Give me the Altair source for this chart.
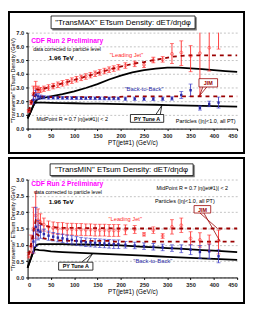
import altair as alt
import pandas as pd

FONT = "Liberation Sans"
W = 214
H1 = 98
H2 = 100

# ---------------- data ----------------
pt = [2.5, 7.5, 12.5, 17.5, 22.5, 27.5, 35, 45, 55, 65, 75, 85, 95, 105, 115, 125, 135, 145,
      155, 165, 175, 185, 195, 210, 230, 250, 270, 290, 310, 330, 350, 370, 390, 410]
pt_b2b = pt[2:]
pt_jim = pt + [430, 450]
pt_py = [0, 5, 10, 15, 20, 25, 35, 50, 75, 100, 125, 150, 175, 200, 225, 250, 275, 300,
         325, 350, 375, 400, 425, 450]

# TransMAX
max_lj = [1.30, 1.90, 2.55, 3.00, 2.85, 2.80, 2.90, 3.00, 3.10, 3.20, 3.30, 3.38, 3.50, 3.60,
          3.70, 3.80, 3.90, 4.00, 4.10, 4.20, 4.30, 4.38, 4.48, 4.60, 4.72, 4.65, 5.00, 5.05,
          5.45, 5.55, 5.30, 5.50, 5.90, 7.60]
max_lj_lo = [1.20, 1.75, 2.10, 2.60, 2.62, 2.62, 2.72, 2.80, 2.90, 3.00, 3.10, 3.18, 3.30, 3.40,
             3.50, 3.60, 3.70, 3.80, 3.90, 4.00, 4.10, 4.18, 4.28, 4.40, 4.52, 4.45, 4.80, 4.85,
             4.75, 4.60, 4.15, 2.40, 4.20, 5.80]
max_lj_hi = [1.40, 2.05, 3.10, 3.45, 3.10, 3.00, 3.10, 3.20, 3.30, 3.40, 3.50, 3.58, 3.70, 3.80,
             3.90, 4.00, 4.10, 4.20, 4.30, 4.40, 4.50, 4.58, 4.68, 4.80, 4.92, 4.85, 5.20, 5.25,
             6.20, 6.40, 6.05, 8.60, 7.60, 9.40]
max_b2b = [2.10, 2.45, 2.35, 2.30, 2.28, 2.26, 2.25, 2.25, 2.24, 2.24, 2.23, 2.23, 2.22, 2.22,
           2.22, 2.21, 2.21, 2.20, 2.20, 2.20, 2.20, 2.18, 2.18, 2.17, 2.17, 2.18, 2.20, 2.45,
           2.80, 1.50, 1.80, 1.90]
max_b2b_err = [0.30, 0.35, 0.20, 0.15, 0.12, 0.12, 0.10, 0.10, 0.10, 0.10, 0.10, 0.10, 0.10, 0.10,
               0.10, 0.10, 0.10, 0.10, 0.10, 0.10, 0.10, 0.12, 0.12, 0.12, 0.12, 0.12, 0.12, 0.25,
               0.45, 0.15, 0.20, 0.40]
max_jim_lj = [1.30, 1.90, 2.50, 2.90, 2.85, 2.85, 2.92, 3.00, 3.10, 3.20, 3.30, 3.40, 3.50, 3.60,
              3.70, 3.80, 3.90, 4.00, 4.10, 4.20, 4.30, 4.40, 4.50, 4.60, 4.75, 4.85, 5.00, 5.10,
              5.25, 5.30, 5.35, 5.35, 5.35, 5.35, 5.35, 5.35]
max_jim_b2b = [1.25, 1.80, 2.20, 2.45, 2.40, 2.35, 2.32, 2.30, 2.30, 2.30, 2.30, 2.30, 2.30, 2.30,
               2.30, 2.30, 2.30, 2.30, 2.30, 2.30, 2.30, 2.30, 2.30, 2.35, 2.35, 2.35, 2.35, 2.35,
               2.35, 2.35, 2.35, 2.35, 2.35, 2.35, 2.35, 2.35]
max_py_lj = [0.75, 1.10, 1.50, 1.90, 2.10, 2.18, 2.25, 2.35, 2.52, 2.72, 2.96, 3.25, 3.58, 3.87,
             4.10, 4.26, 4.38, 4.44, 4.44, 4.40, 4.34, 4.27, 4.20, 4.13]
max_py_b2b = [0.75, 1.10, 1.50, 1.85, 1.90, 1.90, 1.89, 1.88, 1.86, 1.85, 1.83, 1.82, 1.80, 1.78,
              1.77, 1.75, 1.74, 1.72, 1.70, 1.68, 1.66, 1.64, 1.62, 1.60]

# TransMIN
min_lj = [0.68, 0.95, 1.50, 1.90, 1.75, 1.70, 1.62, 1.55, 1.52, 1.50, 1.50, 1.48, 1.48, 1.47,
          1.47, 1.46, 1.46, 1.45, 1.45, 1.45, 1.44, 1.44, 1.44, 1.46, 1.47, 1.32, 1.45, 1.27,
          1.55, 1.60, 1.20, 1.15, 1.05, 1.13]
min_lj_lo = [0.60, 0.75, 0.75, 1.20, 1.40, 1.45, 1.42, 1.37, 1.34, 1.32, 1.32, 1.30, 1.30, 1.29,
             1.29, 1.28, 1.28, 1.27, 1.27, 1.27, 1.26, 1.26, 1.26, 1.31, 1.35, 1.27, 1.35, 1.20,
             1.33, 1.38, 1.00, 0.93, 0.80, 0.72]
min_lj_hi = [0.76, 1.30, 2.15, 2.62, 2.10, 1.95, 1.82, 1.73, 1.70, 1.68, 1.68, 1.66, 1.66, 1.65,
             1.65, 1.64, 1.64, 1.63, 1.63, 1.63, 1.62, 1.62, 1.62, 1.61, 1.59, 1.37, 1.55, 1.34,
             1.77, 1.82, 1.40, 1.37, 1.30, 1.45]
min_b2b = [1.10, 1.55, 1.45, 1.40, 1.33, 1.28, 1.25, 1.22, 1.20, 1.17, 1.15, 1.12, 1.10, 1.08,
           1.07, 1.06, 1.05, 1.04, 1.03, 1.02, 1.02, 1.00, 0.98, 0.96, 0.94, 0.92, 0.90, 0.88,
           0.85, 0.78, 0.80, 0.65]
min_b2b_err = [0.35, 0.60, 0.30, 0.20, 0.15, 0.14, 0.13, 0.13, 0.13, 0.13, 0.13, 0.13, 0.13, 0.13,
               0.13, 0.13, 0.13, 0.13, 0.13, 0.13, 0.13, 0.10, 0.10, 0.10, 0.10, 0.10, 0.10, 0.12,
               0.15, 0.20, 0.22, 0.20]
min_jim_lj = [0.70, 1.00, 1.40, 1.75, 1.70, 1.65, 1.60, 1.56, 1.54, 1.53, 1.52, 1.52, 1.52, 1.52,
              1.51, 1.51, 1.51, 1.51, 1.51, 1.51, 1.51, 1.50, 1.50, 1.50, 1.50, 1.50, 1.50, 1.50,
              1.50, 1.50, 1.50, 1.50, 1.50, 1.50, 1.50, 1.50]
min_jim_b2b = [0.70, 1.00, 1.30, 1.35, 1.30, 1.25, 1.20, 1.17, 1.15, 1.14, 1.13, 1.13, 1.12, 1.12,
               1.12, 1.12, 1.12, 1.12, 1.12, 1.12, 1.12, 1.10, 1.10, 1.10, 1.10, 1.10, 1.10, 1.10,
               1.10, 1.10, 1.10, 1.10, 1.10, 1.10, 1.10, 1.10]
min_py_lj = [0.30, 0.50, 0.70, 0.90, 1.00, 1.02, 1.02, 1.02, 1.02, 1.01, 1.01, 1.00, 0.99, 0.98,
             0.96, 0.94, 0.92, 0.90, 0.88, 0.86, 0.84, 0.82, 0.80, 0.78]
min_py_b2b = [0.30, 0.50, 0.70, 0.85, 0.85, 0.84, 0.83, 0.80, 0.78, 0.76, 0.745, 0.73, 0.715, 0.70,
              0.685, 0.67, 0.65, 0.63, 0.615, 0.60, 0.585, 0.57, 0.555, 0.54]

x_ticks = [0, 50, 100, 150, 200, 250, 300, 350, 400, 450]
max_y_ticks = [0, 1, 2, 3, 4, 5, 6, 7]
min_y_ticks = [0, 0.5, 1.0, 1.5, 2.0, 2.5, 3.0]

ONE = pd.DataFrame({"k": [0]})
RED = "#ff2a2a"
NAVY = "#2a2aa8"
JIMC = "#9a0000"


def text(s, x, y, size, color="black", weight="normal", align="left", angle=0):
    kw = dict(text=s, fontSize=size, color=color, fontWeight=weight, align=align,
              baseline="middle", font=FONT)
    if angle:
        kw["angle"] = angle
    return alt.Chart(ONE).mark_text(**kw).encode(x=alt.value(x), y=alt.value(y))


def box(x1, y1, x2, y2, fill="white", stroke="black", sw=1.0, fo=1.0):
    return alt.Chart(ONE).mark_rect(fill=fill, fillOpacity=fo, stroke=stroke, strokeWidth=sw).encode(
        x=alt.value(x1), x2=alt.value(x2), y=alt.value(y1), y2=alt.value(y2))


def seg(x1, y1, x2, y2, color="black", sw=0.8):
    return alt.Chart(ONE).mark_rule(color=color, strokeWidth=sw).encode(
        x=alt.value(x1), x2=alt.value(x2), y=alt.value(y1), y2=alt.value(y2))


def panel(H, ymax, yticks, lj, lj_lo, lj_hi, b2b, b2b_err, jim_lj, jim_b2b, py_lj, py_b2b,
          title, ann):
    xs = alt.Scale(domain=[0, 450], nice=False, zero=False)
    ys = alt.Scale(domain=[0, ymax], nice=False, clamp=True)
    axis_style = dict(labelFont=FONT, labelFontSize=5.8, labelFontWeight="bold",
                      labelColor="#222222", domainColor="black", domainWidth=1,
                      tickColor="black", tickSize=2, labelPadding=2)
    xax = alt.Axis(values=x_ticks, title=None, grid=False, format="d", labelOverlap=False,
                   **axis_style)
    yax = alt.Axis(values=yticks, title=None, grid=True, format=".1f", labelOverlap=False,
                   gridColor="#9a9a9a", gridDash=[2, 2], gridWidth=0.6, **axis_style)

    def X(f):
        return alt.X(f, type="quantitative", scale=xs, axis=xax)

    def Y(f):
        return alt.Y(f, type="quantitative", scale=ys, axis=yax)

    d_lj = pd.DataFrame({"x": pt, "y": lj, "lo": lj_lo, "hi": lj_hi})
    d_b2b = pd.DataFrame({"x": pt_b2b, "y": b2b, "err": b2b_err})
    d_b2b["lo"] = d_b2b["y"] - d_b2b["err"]
    d_b2b["hi"] = d_b2b["y"] + d_b2b["err"]
    d_jl = pd.DataFrame({"x": pt_jim, "y": jim_lj})
    d_jb = pd.DataFrame({"x": pt_jim, "y": jim_b2b})
    d_pl = pd.DataFrame({"x": pt_py, "y": py_lj})
    d_pb = pd.DataFrame({"x": pt_py, "y": py_b2b})

    layers = []
    # outer frame + title box
    layers.append(box(-19, ann["frame_top"], 221, H + ann["frame_bot"], fill="white", fo=0,
                      stroke="black", sw=2))
    bx1, by1, bx2, by2 = ann["tbox"]
    layers.append(box(bx1 + 1.5, by1 + 1.5, bx2 + 1.5, by2 + 1.5, fill="#777777", stroke="#777777", sw=0.5))
    layers.append(box(bx1, by1, bx2, by2, fill="white", stroke="black", sw=0.8))
    layers.append(text(title, (bx1 + bx2) / 2, (by1 + by2) / 2 + 0.5, 8, align="center"))

    # PYTHIA Tune A curves
    for d in (d_pl, d_pb):
        layers.append(alt.Chart(d).mark_line(color="black", strokeWidth=1.8).encode(
            x=X("x"), y=Y("y")))
    # error bars
    for d, c in ((d_lj, RED), (d_b2b, "#3a3ac8")):
        layers.append(alt.Chart(d).mark_rule(color=c, strokeWidth=0.9).encode(
            x=X("x"), y=Y("lo"), y2=alt.Y2("hi")))
        layers.append(alt.Chart(d).transform_filter(f"datum.lo <= {ymax}").mark_tick(
            orient="horizontal", color=c, size=4, thickness=0.9).encode(x=X("x"), y=Y("lo")))
        layers.append(alt.Chart(d).transform_filter(f"datum.hi <= {ymax}").mark_tick(
            orient="horizontal", color=c, size=4, thickness=0.9).encode(x=X("x"), y=Y("hi")))
    # JIMMY curves
    for d in (d_jl, d_jb):
        layers.append(alt.Chart(d).mark_line(color=JIMC, strokeWidth=1.8, strokeDash=[4, 4]).encode(
            x=X("x"), y=Y("y")))
    # markers
    layers.append(alt.Chart(d_lj).transform_filter(f"datum.y <= {ymax}").mark_point(
        shape="circle", filled=False, color=RED, size=9, strokeWidth=0.8).encode(x=X("x"), y=Y("y")))
    layers.append(alt.Chart(d_b2b).mark_point(
        shape="square", filled=True, color=NAVY, size=6, opacity=1).encode(x=X("x"), y=Y("y")))

    # annotations
    layers.append(text("CDF Run 2 Preliminary", ann["cdf"][0], ann["cdf"][1], 6.8, "#ff00ff", "bold"))
    layers.append(text("data corrected to particle level", ann["dc"][0], ann["dc"][1], 5.2))
    layers.append(text("1.96 TeV", ann["tev"][0], ann["tev"][1], 6.4, weight="bold"))
    layers.append(text("MidPoint R = 0.7 |\u03b7(jet#1)| < 2", ann["mp"][0], ann["mp"][1], 5.5,
                       align=ann["mp"][2]))
    layers.append(text("Particles (|\u03b7|<1.0, all PT)", ann["part"][0], ann["part"][1], 5.6,
                       align=ann["part"][2]))
    layers.append(text("\"Leading Jet\"", ann["lj"][0], ann["lj"][1], 5.8, RED))
    layers.append(text("\"Back-to-Back\"", ann["bb"][0], ann["bb"][1], 6, NAVY))
    # JIM callout
    jx1, jy1, jx2, jy2 = ann["jim"]
    for (sx, sy, ex, ey) in ann["jim_ptr"]:
        layers.append(seg(sx, sy, ex, ey, color=JIMC, sw=0.8))
    layers.append(box(jx1, jy1, jx2, jy2, fill="white", stroke=JIMC, sw=0.8))
    layers.append(text("JIM", (jx1 + jx2) / 2, (jy1 + jy2) / 2 + 0.3, 5.5, JIMC, "bold", "center"))
    # PY Tune A callout
    px1, py1, px2, py2 = ann["py"]
    for (sx, sy, ex, ey) in ann["py_ptr"]:
        layers.append(seg(sx, sy, ex, ey, color="black", sw=0.8))
    layers.append(box(px1, py1, px2, py2, fill="white", stroke="black", sw=0.8))
    layers.append(text("PY Tune A", (px1 + px2) / 2, (py1 + py2) / 2 + 0.3, 5.5, weight="bold",
                       align="center"))
    # axis titles
    layers.append(text("\"Transverse\" ETsum Density (GeV)", -15, H / 2, 5.6, align="center",
                       angle=270))
    layers.append(text("PT(jet#1)  (GeV/c)", 107.5, H + 15, 6.5, align="center"))

    return alt.layer(*layers).properties(width=W, height=H)


top = panel(
    H1, 7, max_y_ticks, max_lj, max_lj_lo, max_lj_hi, max_b2b, max_b2b_err,
    max_jim_lj, max_jim_b2b, max_py_lj, max_py_b2b,
    "\"TransMAX\" ETsum Density: dET/d\u03b7d\u03c6",
    dict(frame_top=-21, frame_bot=25, tbox=(24, -17, 171, -4),
         cdf=(3.7, 8.5), dc=(5.7, 16.8), tev=(21.7, 26.3),
         mp=(9, 88, "left"), part=(212.5, 90.3, "right"),
         lj=(84, 23), bb=(99, 57.5),
         jim=(175, 47, 194, 55.5), jim_ptr=[(179, 55.5, 175.5, 64.5), (183, 55.5, 175.5, 64.5)],
         py=(105, 83.6, 139, 91.6), py_ptr=[(131, 83.6, 137, 74.5), (135.5, 83.6, 137, 74.5)]))

bottom = panel(
    H2, 3, min_y_ticks, min_lj, min_lj_lo, min_lj_hi, min_b2b, min_b2b_err,
    min_jim_lj, min_jim_b2b, min_py_lj, min_py_b2b,
    "\"TransMIN\" ETsum Density: dET/d\u03b7d\u03c6",
    dict(frame_top=-22, frame_bot=26, tbox=(23, -16, 169, -4),
         cdf=(3.7, 4.9), dc=(6.7, 13.1), tev=(21.7, 23.4),
         mp=(131.7, 8.2, "left"), part=(130, 21.9, "left"),
         lj=(82.7, 40.4), bb=(108, 83.7),
         jim=(170, 26.6, 187, 34.2), jim_ptr=[(176, 34.2, 194, 50), (180, 34.2, 196.6, 63.3)],
         py=(31.7, 84.4, 66.7, 92.5), py_ptr=[(55, 84.4, 66.6, 75.5), (60.5, 84.4, 66.6, 75.5)]))

chart = alt.vconcat(top, bottom, spacing=3).properties(
    padding=0, background="white").configure_view(stroke=None)

chart.save("out.html", embed_options={"renderer": "svg", "actions": False})
